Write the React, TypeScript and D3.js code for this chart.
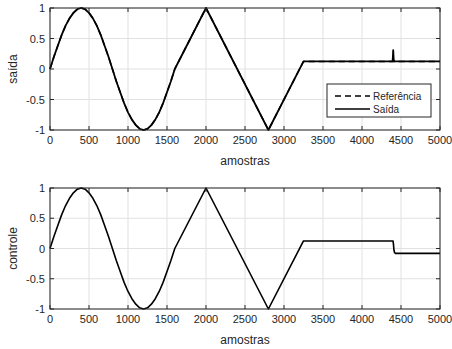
import React from "react";
import * as d3 from "d3";

// ---- data ----
const sineX = [0,50,100,150,200,250,300,350,400,450,500,550,600,650,700,750,800,850,900,950,1000,1050,1100,1150,1200,1250,1300,1350,1400,1450,1500,1550,1600];
const sineY = [0,0.2,0.38,0.56,0.71,0.83,0.92,0.98,1,0.98,0.92,0.83,0.71,0.56,0.38,0.2,0,-0.2,-0.38,-0.56,-0.71,-0.83,-0.92,-0.98,-1,-0.98,-0.92,-0.83,-0.71,-0.56,-0.38,-0.2,0];

const refTailX = [2000, 2800, 3250, 5000];
const refTailY = [1, -1, 0.125, 0.125];

const outTailX = [2000, 2800, 3250, 4392, 4396, 4400, 4406, 4414, 5000];
const outTailY = [1, -1, 0.125, 0.125, 0.2, 0.31, 0.16, 0.125, 0.125];

const ctrlTailX = [2000, 2800, 3250, 4398, 4404, 4410, 4418, 4428, 5000];
const ctrlTailY = [1, -1, 0.125, 0.125, 0.06, -0.03, -0.07, -0.08, -0.08];

const xTicks = [0,500,1000,1500,2000,2500,3000,3500,4000,4500,5000];
const yTicks = [-1,-0.5,0,0.5,1];
const yTickLabels = ["-1","-0.5","0","0.5","1"];

type Pt = [number, number];
const build = (tx: number[], ty: number[]): Pt[] => [
  ...sineX.map((x, i) => [x, sineY[i]] as Pt),
  ...tx.map((x, i) => [x, ty[i]] as Pt),
];

const refData = build(refTailX, refTailY);
const outData = build(outTailX, outTailY);
const ctrlData = build(ctrlTailX, ctrlTailY);

const W = 452, H = 349;
const FONT = "'Liberation Sans', Arial, Helvetica, sans-serif";
const AX = "#262626";

function Panel({ top, bottom, ylabel, series, legend }: {
  top: number; bottom: number; ylabel: string;
  series: { data: Pt[]; dash?: string; width: number }[];
  legend?: boolean;
}) {
  const x = d3.scaleLinear().domain([0, 5000]).range([50, 440]);
  const y = d3.scaleLinear().domain([-1, 1]).range([bottom, top]);
  const line = d3.line<Pt>().x(d => x(d[0])).y(d => y(d[1]));
  const tl = 4;
  return (
    <g>
      <rect x={50} y={top} width={390} height={bottom - top} fill="#fff" />
      {xTicks.map(t => (
        <line key={"gx" + t} x1={x(t)} x2={x(t)} y1={top} y2={bottom} stroke="#e1e1e1" strokeWidth={1} />
      ))}
      {yTicks.map(t => (
        <line key={"gy" + t} x1={50} x2={440} y1={y(t)} y2={y(t)} stroke="#e1e1e1" strokeWidth={1} />
      ))}
      {series.map((s, i) => (
        <path key={i} d={line(s.data) || ""} fill="none" stroke="#000" strokeWidth={s.width} strokeDasharray={s.dash} strokeLinejoin="round" />
      ))}
      <rect x={50} y={top} width={390} height={bottom - top} fill="none" stroke={AX} strokeWidth={1} />
      {xTicks.map(t => (
        <g key={"tx" + t}>
          <line x1={x(t)} x2={x(t)} y1={bottom} y2={bottom - tl} stroke={AX} />
          <line x1={x(t)} x2={x(t)} y1={top} y2={top + tl} stroke={AX} />
          <text x={x(t)} y={bottom + 14} textAnchor="middle" fontSize={11} fill={AX} fontFamily={FONT}>{t}</text>
        </g>
      ))}
      {yTicks.map((t, i) => (
        <g key={"ty" + t}>
          <line x1={50} x2={50 + tl} y1={y(t)} y2={y(t)} stroke={AX} />
          <line x1={440} x2={440 - tl} y1={y(t)} y2={y(t)} stroke={AX} />
          <text x={45} y={y(t) + 4} textAnchor="end" fontSize={11} fill={AX} fontFamily={FONT}>{yTickLabels[i]}</text>
        </g>
      ))}
      <text x={245} y={bottom + 35} textAnchor="middle" fontSize={12} fill={AX} fontFamily={FONT}>amostras</text>
      <text transform={`translate(17,${(top + bottom) / 2}) rotate(-90)`} textAnchor="middle" fontSize={12} fill={AX} fontFamily={FONT}>{ylabel}</text>
      {legend && (
        <g>
          <rect x={327} y={84} width={104} height={33} fill="#fff" stroke={AX} strokeWidth={1} />
          <line x1={335} x2={370} y1={96} y2={96} stroke="#000" strokeWidth={1.5} strokeDasharray="6,4" />
          <text x={373} y={100} fontSize={10} fill={AX} fontFamily={FONT}>Referência</text>
          <line x1={335} x2={370} y1={109} y2={109} stroke="#000" strokeWidth={1.5} />
          <text x={373} y={113} fontSize={10} fill={AX} fontFamily={FONT}>Saída</text>
        </g>
      )}
    </g>
  );
}

export default function App() {
  return (
    <svg width={W} height={H} style={{ position: "absolute", left: 0, top: 0, background: "#fff" }}>
      <rect width={W} height={H} fill="#fff" />
      <Panel top={8} bottom={130} ylabel="saída"
        series={[{ data: outData, width: 1.8 }, { data: refData, width: 1.5, dash: "6,4" }]} legend />
      <Panel top={188} bottom={309} ylabel="controle"
        series={[{ data: ctrlData, width: 1.6 }]} />
    </svg>
  );
}
